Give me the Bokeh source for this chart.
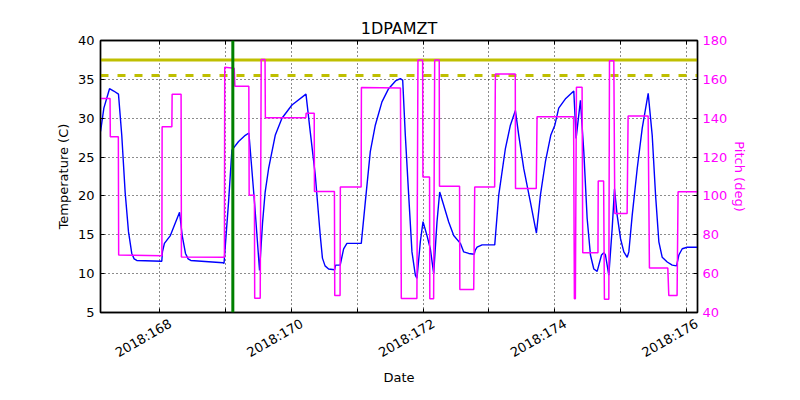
import math
from bokeh.plotting import figure
from bokeh.models import Range1d, LinearAxis, FixedTicker, Span
from bokeh.embed import file_html
from bokeh.resources import INLINE

# ---------------- data ----------------
chart_title = "1DPAMZT"
x_start, x_end = 167.099, 176.167
temp_lo, temp_hi = 5, 40
pitch_lo, pitch_hi = 40, 180

temp_days = [
    167.100, 167.15, 167.236, 167.30, 167.372,
    167.422, 167.473, 167.524, 167.574, 167.61,
    167.65, 168.03, 168.04, 168.07, 168.16,
    168.22, 168.30, 168.34, 168.39, 168.43,
    168.47, 168.96, 168.975, 169.044, 169.095,
    169.196, 169.298, 169.353, 169.44, 169.515,
    169.56, 169.60, 169.652, 169.753, 169.855,
    170.007, 170.22, 170.285, 170.361, 170.437,
    170.47, 170.51, 170.564, 170.655, 170.67,
    170.74, 170.792, 170.842, 171.06, 171.121,
    171.197, 171.273, 171.374, 171.475, 171.58,
    171.653, 171.689, 171.729, 171.78, 171.83,
    171.881, 171.906, 171.957, 171.998, 172.058,
    172.109, 172.16, 172.21, 172.251, 172.312,
    172.388, 172.464, 172.565, 172.616, 172.692,
    172.775, 172.79, 172.819, 172.895, 173.087,
    173.148, 173.249, 173.325, 173.401, 173.452,
    173.528, 173.629, 173.72, 173.781, 173.857,
    173.938, 174.0, 174.059, 174.166, 174.288,
    174.323, 174.389, 174.44, 174.491, 174.541,
    174.592, 174.643, 174.668, 174.709, 174.744,
    174.769, 174.82, 174.871, 174.906, 174.947,
    174.998, 175.048, 175.099, 175.124, 175.175,
    175.251, 175.327, 175.418, 175.479, 175.53,
    175.58, 175.631, 175.707, 175.783, 175.849,
    175.884, 175.935, 176.011, 176.167,
]
temp_vals = [
    28.3, 31.3, 33.8, 33.5, 33.1,
    27.8, 20.5, 15.4, 12.6, 11.9,
    11.7, 11.6, 12.8, 13.9, 14.9,
    16.2, 17.9, 14.9, 12.6, 11.9,
    11.7, 11.4, 11.3, 19.2, 25.9,
    27.0, 27.8, 28.1, 19.0, 10.4,
    16.5, 20.5, 23.5, 27.8, 30.0,
    31.7, 33.1, 28.25, 22.7, 14.9,
    12.0, 11.0, 10.6, 10.5, 11.1,
    11.1, 13.2, 13.9, 13.9, 19.2,
    25.7, 29.1, 32.1, 33.8, 34.8,
    35.1, 34.9, 27.8, 20.1, 12.8,
    9.8, 9.4, 14.1, 16.7, 14.9,
    13.2, 10.0, 16.65, 20.5, 18.8,
    16.65, 14.9, 13.9, 12.8, 12.6,
    12.5, 13.0, 13.4, 13.7, 13.7,
    20.1, 26.1, 29.1, 31.0, 27.8,
    23.5, 19.2, 15.2, 20.1, 24.4,
    27.8, 29.1, 31.3, 32.55, 33.5,
    27.4, 32.3, 25.7, 17.1, 12.4,
    10.6, 10.3, 11.1, 12.4, 12.7,
    12.4, 9.8, 15.8, 20.9, 17.5,
    14.5, 12.8, 12.1, 12.8, 17.5,
    23.5, 28.7, 33.2, 27.8, 20.1,
    14.1, 12.1, 11.5, 11.1, 11.0,
    12.4, 13.2, 13.4, 13.4,
]

pitch_days = [
    167.099, 167.244, 167.248, 167.370, 167.375, 168.031, 168.035, 168.183, 168.187, 168.323,
    168.328, 168.981, 168.986, 169.13, 169.14, 169.352, 169.357, 169.437, 169.441, 169.525,
    169.54, 169.598, 169.603, 170.218, 170.222, 170.345, 170.349, 170.652, 170.657, 170.738,
    170.742, 171.058, 171.062, 171.655, 171.668, 171.905, 171.921, 171.992, 171.996, 172.097,
    172.101, 172.159, 172.175, 172.244, 172.248, 172.553, 172.557, 172.768, 172.783, 173.086,
    173.097, 173.399, 173.403, 173.718, 173.730, 174.285, 174.297, 174.312, 174.328, 174.414,
    174.424, 174.655, 174.659, 174.741, 174.753, 174.820, 174.830, 174.896, 174.911, 175.098,
    175.113, 175.417, 175.437, 175.716, 175.731, 175.857, 175.872, 176.167,
]
pitch_vals = [
    150.2, 150.2, 130.4, 130.4, 69.6, 69.2, 135.6, 135.6, 152.3, 152.3,
    68.6, 68.4, 166.2, 165.7, 156.5, 156.5, 100.4, 100.4, 47.3, 47.3,
    170.2, 170.2, 140.2, 140.2, 142.5, 142.5, 102.3, 102.3, 48.7, 48.7,
    104.6, 104.6, 155.8, 155.5, 47.2, 47.2, 170.0, 170.0, 109.8, 109.8,
    47.1, 47.1, 170.0, 170.0, 105.0, 105.0, 51.9, 51.9, 104.6, 104.6,
    162.7, 162.7, 103.8, 103.8, 140.7, 140.7, 47.1, 47.1, 155.9, 155.9,
    70.8, 70.8, 107.7, 107.7, 46.8, 46.8, 169.6, 169.6, 90.9, 90.9,
    141.1, 141.1, 62.9, 62.9, 48.8, 48.8, 102.1, 102.1,
]

limit_solid = 37.5
limit_dashed = 35.5
marker_day = 169.109

x_grid_days = [168, 169, 170, 171, 172, 173, 174, 175, 176]
x_tick_days = [168, 170, 172, 174, 176]
x_tick_labels = ["2018:168", "2018:170", "2018:172", "2018:174", "2018:176"]
temp_ticks = [5, 10, 15, 20, 25, 30, 35, 40]
pitch_ticks = [40, 60, 80, 100, 120, 140, 160, 180]

# ---------------- styles ----------------
FONT = "DejaVu Sans"
BLUE = "#0000ff"
MAGENTA = "#ff00ff"
YELLOW = "#bfbf00"
GREEN = "#008000"

W, H = 800, 400
B_LEFT, B_RIGHT, B_TOP, B_BOTTOM = 100, 103, 40, 88
# Bokeh right-aligns rotated labels; nudge them right (as far as the last tick allows)
LABEL_SHIFT_PX = 10.5

p = figure(
    width=W, height=H,
    x_range=Range1d(x_start, x_end),
    y_range=Range1d(temp_lo, temp_hi),
    output_backend="svg", toolbar_location=None,
    min_border_left=B_LEFT, min_border_right=B_RIGHT,
    min_border_top=B_TOP, min_border_bottom=B_BOTTOM,
    background_fill_color="white", border_fill_color="white",
)
p.extra_y_ranges = {"pitch": Range1d(pitch_lo, pitch_hi)}
frame_w = W - B_LEFT - B_RIGHT
shift = LABEL_SHIFT_PX * (x_end - x_start) / frame_w
p.extra_x_ranges = {"labels": Range1d(x_start - shift, x_end - shift)}

p.outline_line_color = "black"
p.outline_line_width = 1.4
p.outline_line_alpha = 1.0

# title
p.title.text = chart_title
p.title.align = "center"
p.title.text_font = FONT
p.title.text_font_size = "16px"
p.title.text_font_style = "normal"
p.title.text_color = "black"
p.title.standoff = 6

def style_axis(ax, color="black"):
    ax.axis_line_color = "black"
    ax.axis_line_width = 1.4
    ax.major_tick_line_color = "black"
    ax.major_tick_in = 4
    ax.major_tick_out = 0
    ax.minor_tick_line_color = None
    ax.major_label_text_font = FONT
    ax.major_label_text_font_size = "13px"
    ax.major_label_text_color = color
    ax.axis_label_text_font = FONT
    ax.axis_label_text_font_size = "13px"
    ax.axis_label_text_font_style = "normal"
    ax.axis_label_text_color = color

# bottom x axis: tick marks only
xa = p.xaxis[0]
xa.ticker = FixedTicker(ticks=x_grid_days)
style_axis(xa)
xa.major_label_text_font_size = "0px"
xa.major_label_text_color = None
xa.major_label_standoff = 0

# second bottom axis: rotated date labels
xl = LinearAxis(x_range_name="labels", ticker=FixedTicker(ticks=x_tick_days))
style_axis(xl)
xl.axis_line_color = None
xl.major_tick_line_color = None
xl.major_tick_in = 0
xl.major_label_overrides = {d: s for d, s in zip(x_tick_days, x_tick_labels)}
xl.major_label_orientation = math.radians(30)
xl.major_label_standoff = 10
xl.axis_label = "Date"
xl.axis_label_standoff = 0
p.add_layout(xl, "below")

# top axis for tick marks only
xtop = LinearAxis(ticker=FixedTicker(ticks=x_grid_days))
style_axis(xtop)
xtop.major_label_text_font_size = "0px"
xtop.major_label_text_color = None
xtop.major_label_standoff = 0
p.add_layout(xtop, "above")

# left axis
ya = p.yaxis[0]
ya.ticker = FixedTicker(ticks=temp_ticks)
style_axis(ya)
ya.major_label_standoff = 6
ya.axis_label = "Temperature (C)"
ya.axis_label_standoff = 4

# right axis
yr = LinearAxis(y_range_name="pitch", ticker=FixedTicker(ticks=pitch_ticks))
style_axis(yr, MAGENTA)
yr.major_label_standoff = 5
yr.axis_label = "Pitch (deg)"
yr.axis_label_standoff = 2
p.add_layout(yr, "right")

# grid
p.xgrid.ticker = FixedTicker(ticks=x_grid_days)
p.ygrid.ticker = FixedTicker(ticks=temp_ticks)
for g in (p.xgrid[0], p.ygrid[0]):
    g.grid_line_color = "black"
    g.grid_line_dash = "1 3"
    g.grid_line_width = 1
    g.grid_line_alpha = 0.9

# series
p.line(temp_days, temp_vals, line_color=BLUE, line_width=1.4)
p.line([x_start, x_end], [limit_solid, limit_solid], line_color=YELLOW, line_width=3)
p.line([x_start, x_end], [limit_dashed, limit_dashed], line_color=YELLOW, line_width=3,
       line_dash="8 9")
p.line(pitch_days, pitch_vals, line_color=MAGENTA, line_width=1.5, y_range_name="pitch")
p.add_layout(Span(location=marker_day, dimension="height", line_color=GREEN, line_width=3))

open("out.html", "w").write(file_html(p, INLINE))
